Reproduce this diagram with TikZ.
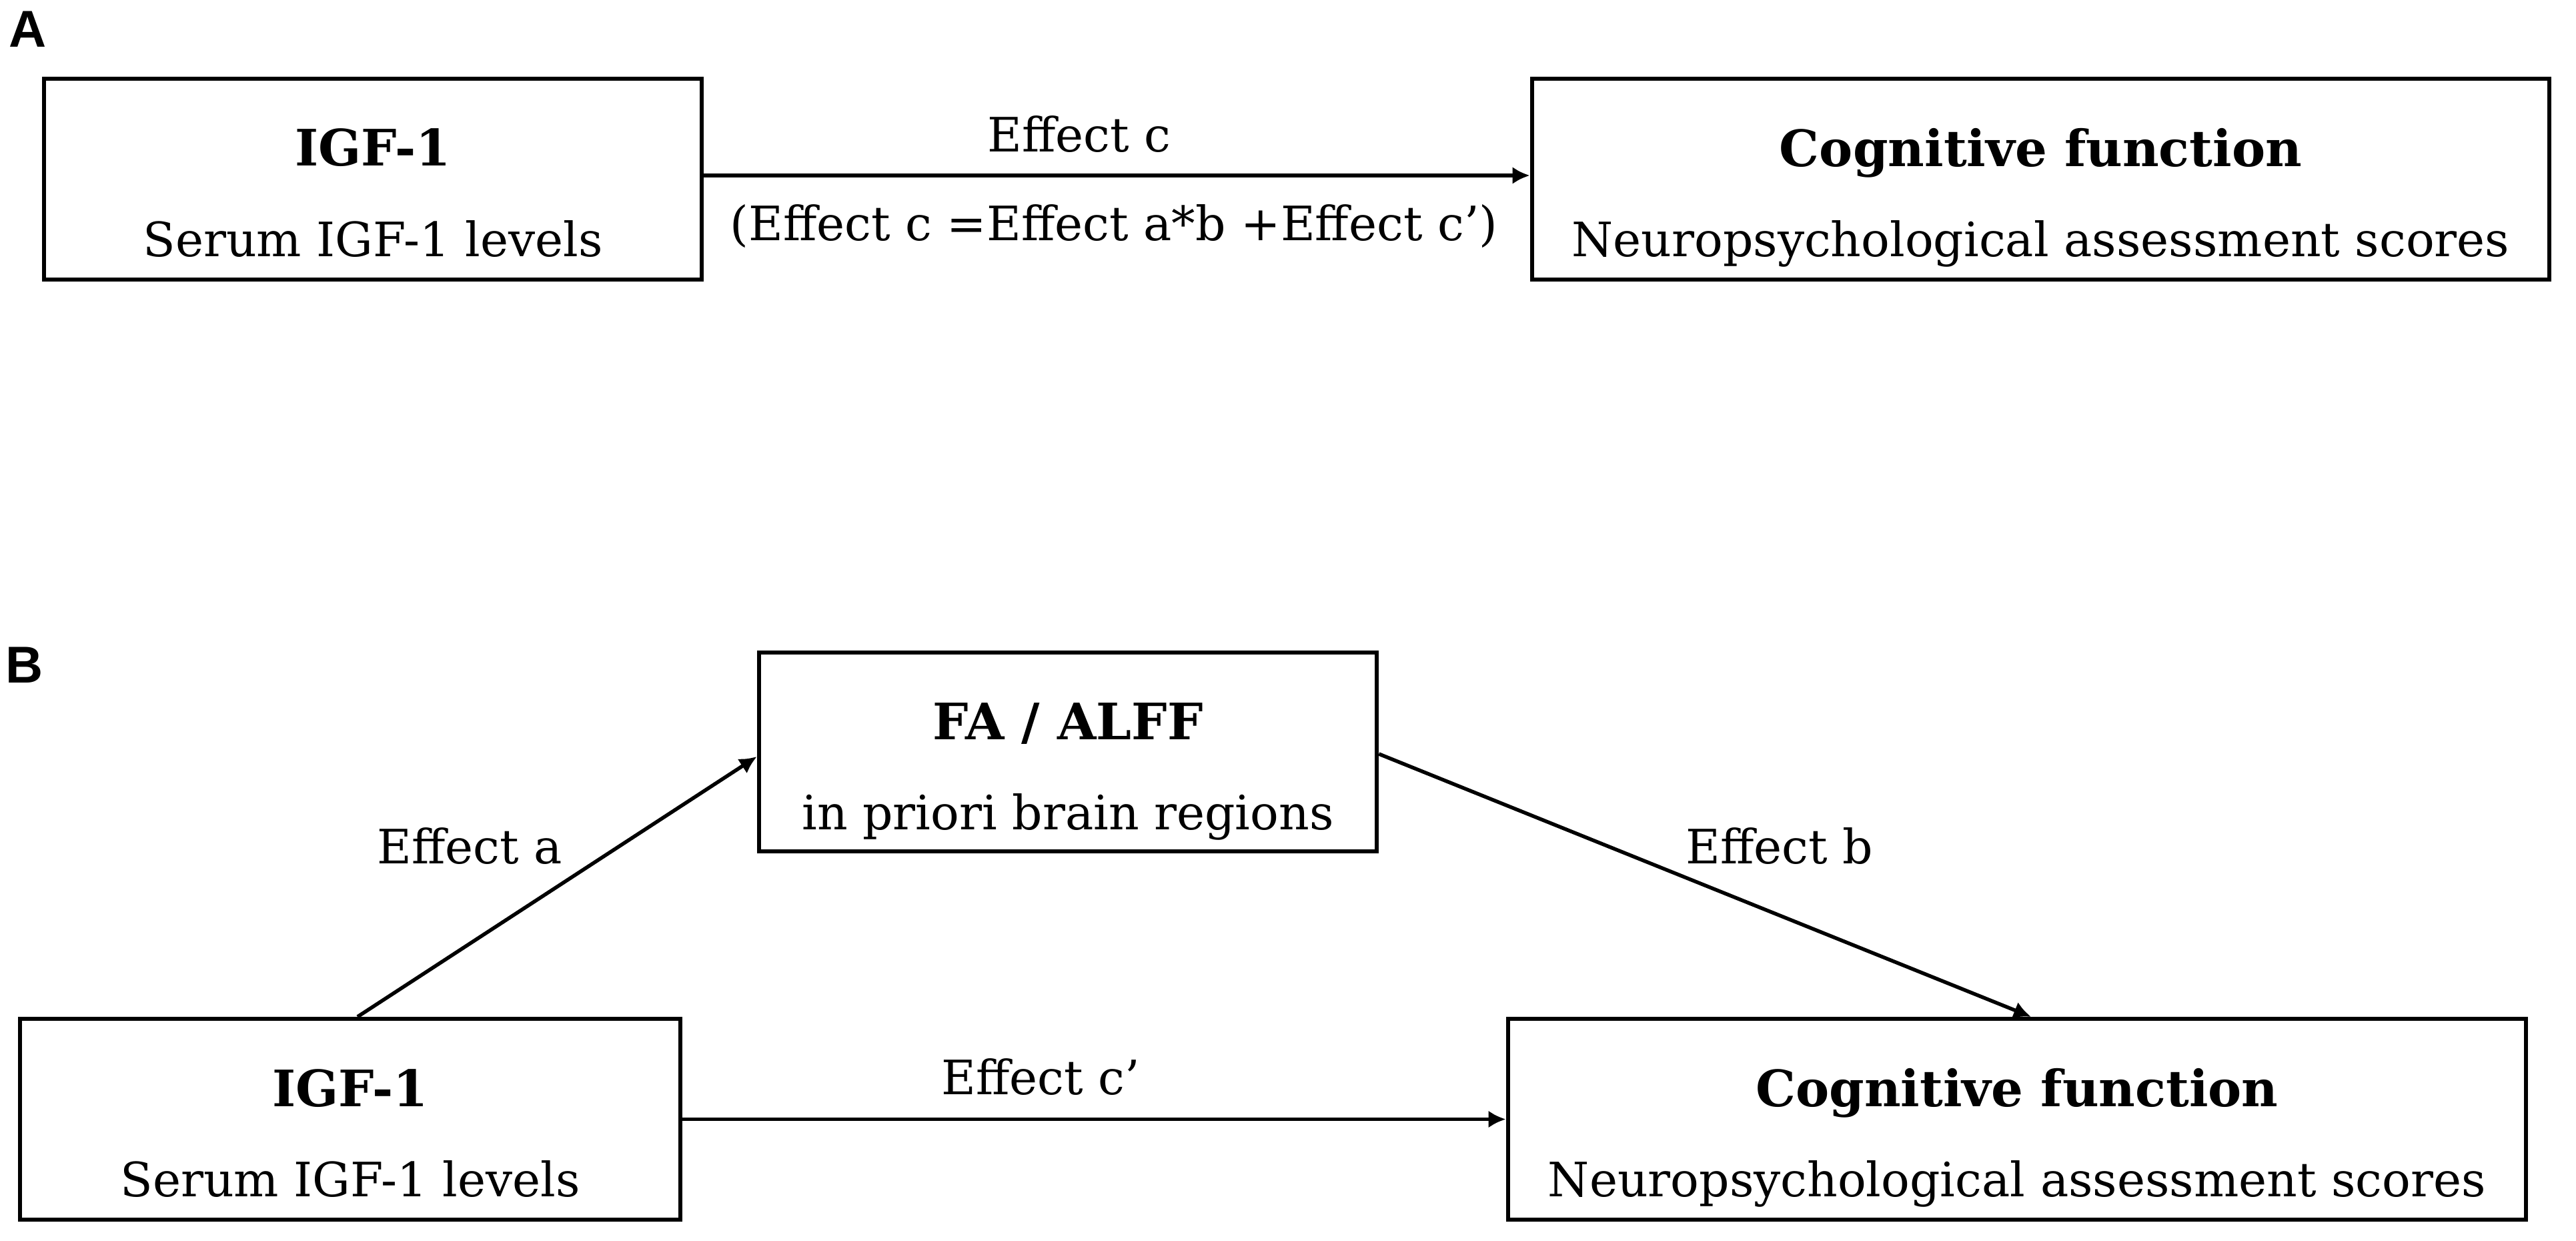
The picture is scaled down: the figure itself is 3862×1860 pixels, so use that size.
\documentclass[tikz,border=0pt]{standalone}
\usepackage{fontspec}
\setmainfont{DejaVu Serif}
\newfontfamily\panelfont{Liberation Sans}
\usetikzlibrary{arrows.meta}
\begin{document}
\begin{tikzpicture}[x=0.01cm,y=-0.01cm,
  box/.style={draw=black, line width=0.06cm, fill=white, inner sep=0pt, rectangle},
  arr/.style={-{Latex[length=0.26cm,width=0.26cm]}, line width=0.055cm, draw=black},
  ttl/.style={anchor=base, inner sep=0pt, font=\fontsize{21.4}{24}\selectfont\bfseries},
  sub/.style={anchor=base, inner sep=0pt, font=\fontsize{20.2}{24}\selectfont},
  lbl/.style={anchor=base, inner sep=0pt, font=\fontsize{20.2}{24}\selectfont},
  panel/.style={anchor=base west, inner sep=0pt, font=\panelfont\fontsize{22.1}{26}\selectfont\bfseries}]
\path[fill=white, use as bounding box] (0,0) rectangle (3862,1860);

% panel labels
\node[panel] (PA) at (13,70) {A};
\node[panel] (PB) at (8,1023) {B};

% Panel A boxes
\node[box, minimum width=9.86cm, minimum height=3.01cm] (A1) at (559,268.5) {};
\node[box, minimum width=15.25cm, minimum height=3.01cm] (A2) at (3059.5,268.5) {};
\node[ttl] (A1t) at (559,248) {IGF-1};
\node[sub] (A1s) at (559,384) {Serum IGF-1 levels};
\node[ttl] (A2t) at (3059.5,249) {Cognitive function};
\node[sub] (A2s) at (3059.5,384) {Neuropsychological assessment scores};

\draw[arr] ([yshift=0.055cm]A1.east) -- ([yshift=0.055cm]A2.west);
\node[lbl] (Ec) at (1618,227) {Effect c};
\node[lbl] (Ef) at (1670,360) {(Effect c =Effect a*b +Effect c’)};

% Panel B boxes
\node[box, minimum width=9.26cm, minimum height=2.98cm] (FA) at (1601,1127) {};
\node[box, minimum width=9.90cm, minimum height=3.01cm] (B1) at (525,1677.5) {};
\node[box, minimum width=15.26cm, minimum height=3.01cm] (B2) at (3024,1677.5) {};
\node[ttl] (FAt) at (1601,1108) {FA / ALFF};
\node[sub] (FAs) at (1601,1243) {in priori brain regions};
\node[ttl] (B1t) at (525,1658) {IGF-1};
\node[sub] (B1s) at (525,1793) {Serum IGF-1 levels};
\node[ttl] (B2t) at (3024,1658) {Cognitive function};
\node[sub] (B2s) at (3024,1793) {Neuropsychological assessment scores};

\draw[arr] ([xshift=0.11cm]B1.north) -- ([yshift=-0.07cm]FA.west);
\draw[arr] ([yshift=-0.03cm]FA.east) -- ([xshift=0.21cm]B2.north);
\draw[arr] (B1.east) -- (B2.west);

\node[lbl] (Ea) at (704,1294) {Effect a};
\node[lbl] (Eb) at (2668,1294) {Effect b};
\node[lbl] (Ecp) at (1560,1640) {Effect c’};
\end{tikzpicture}
\end{document}
